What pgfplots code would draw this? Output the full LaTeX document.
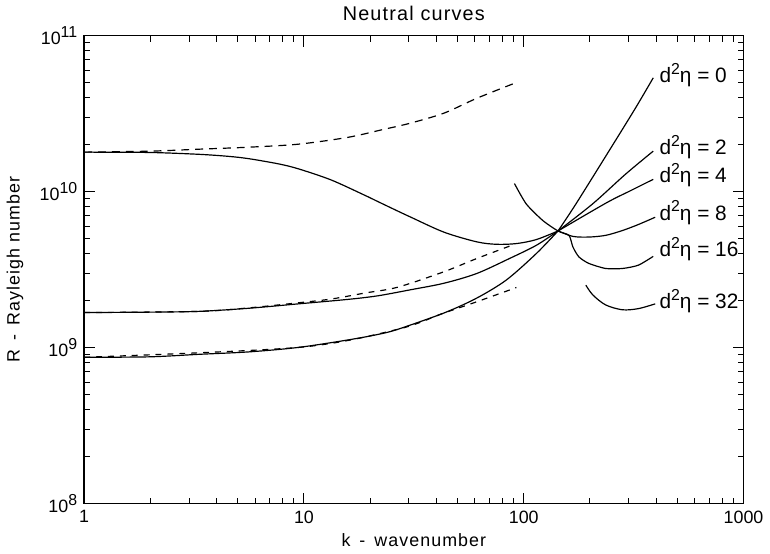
\documentclass[border=0pt]{standalone}
\usepackage{fontspec}
\setmainfont{Liberation Sans}
\newfontfamily\widesans[LetterSpace=6]{Liberation Sans}
\usepackage{pgfplots}
\pgfplotsset{compat=1.18}
\newcommand{\dsq}{d\raisebox{0.75ex}{\fontsize{8}{8}\selectfont 2}η}
\newcommand{\tpow}[1]{10\raisebox{0.7ex}{\fontsize{8}{8}\selectfont #1}}
\tikzset{lbl/.style={anchor=west, inner sep=0pt, font=\fontsize{10.5}{12}\selectfont}}
\begin{document}
\begin{tikzpicture}
\begin{axis}[
  xmode=log, ymode=log,
  scale only axis, width=332.5pt, height=236pt,
  xmin=1, xmax=1000, ymin=1e8, ymax=1e11,
  xtick={1,10,100,1000}, xticklabels={1,10,100,1000},
  ytick={1e8,1e9,1e10,1e11},
  yticklabels={\tpow{8},\tpow{9},\tpow{10},\tpow{11}},
  minor xtick={2,3,4,5,6,7,8,9,20,30,40,50,60,70,80,90,200,300,400,500,600,700,800,900},
  minor ytick={2e8,3e8,4e8,5e8,6e8,7e8,8e8,9e8,2e9,3e9,4e9,5e9,6e9,7e9,8e9,9e9,2e10,3e10,4e10,5e10,6e10,7e10,8e10,9e10},
  major tick length=5.5pt, minor tick length=3pt,
  tick style={black, line width=0.5pt},
  axis line style={line width=0.8pt},
  tick label style={font=\fontsize{9}{10}\selectfont},
  title={Neutral curves},
  xlabel={k \,-\, wavenumber},
  ylabel={R \,-\, Rayleigh number},
  every axis title/.style={at={(axis description cs:0.5,1)}, anchor=center, yshift=11pt, font=\widesans\fontsize{10}{11}\selectfont},
  every axis x label/.style={at={(axis description cs:0.5,0)}, anchor=center, yshift=-18.5pt, font=\widesans\fontsize{9}{10}\selectfont},
  every axis y label/.style={at={(axis description cs:-0.105,0.5)}, rotate=90, anchor=center, font=\widesans\fontsize{9}{10}\selectfont},
  every axis plot/.append style={black, line width=0.6pt},
]
\coordinate (bl) at (rel axis cs:0,0);
\coordinate (tr) at (rel axis cs:1,1);
% upper curve from the left
\addplot[smooth, tension=0.5] coordinates {
 (1,1.793e10) (1.985,1.784e10) (3.337,1.736e10) (4.555,1.684e10) (5.609,1.628e10) (7.657,1.508e10)
 (9.426,1.402e10) (13.28,1.190e10) (18.90,9.49e9) (21.63,8.66e9) (26.63,7.53e9) (30.48,6.89e9)
 (43.39,5.50e9) (61.12,4.77e9) (75.24,4.60e9) (92.60,4.65e9) (114.0,4.93e9) (143.2,5.60e9)};
\addplot[smooth, tension=0.5, dash pattern=on 4pt off 3pt] coordinates {
 (1,1.793e10) (1.985,1.819e10) (3.337,1.873e10) (5.609,1.929e10) (9.426,2.016e10)
 (15.84,2.23e10) (22.79,2.50e10) (30.48,2.75e10) (43.39,3.19e10) (61.12,3.97e10) (92.60,5.01e10)};
% middle curve
\addplot[smooth, tension=0.5] coordinates {
 (1,1.68e9) (1.985,1.69e9) (3.337,1.71e9) (5.609,1.79e9) (9.426,1.91e9) (15.84,2.04e9)
 (21.63,2.15e9) (30.48,2.35e9) (43.39,2.59e9) (61.12,2.99e9) (86.10,3.73e9) (114.0,4.53e9) (143.2,5.60e9)};
\addplot[smooth, tension=0.5, dash pattern=on 3pt off 3pt] coordinates {
 (1,1.68e9) (3.337,1.71e9) (5.609,1.80e9) (9.426,1.94e9) (13.28,2.05e9) (18.90,2.24e9)
 (26.63,2.44e9) (43.39,3.07e9) (61.12,3.73e9) (90.70,4.60e9)};
% lower curve
\addplot[smooth, tension=0.5] coordinates {
 (1,8.68e8) (1.985,8.74e8) (3.337,9.07e8) (5.609,9.40e8) (9.426,1.004e9) (15.84,1.121e9)
 (21.63,1.215e9) (26.63,1.31e9) (43.39,1.67e9) (61.12,2.08e9) (83.44,2.72e9) (114.0,4.01e9) (143.2,5.60e9)};
\addplot[smooth, tension=0.5, dash pattern=on 3pt off 3pt] coordinates {
 (1,8.68e8) (9.426,1.004e9) (26.63,1.31e9) (43.39,1.67e9) (61.12,1.97e9) (92.60,2.43e9)};
% branches to the right
\addplot[smooth, tension=0.4] coordinates {
 (90.70,1.128e10) (102.7,8.34e9) (122.2,6.53e9) (143.2,5.60e9) (160.6,5.25e9) (167.4,4.42e9)
 (178.2,3.82e9) (197.7,3.47e9) (235.9,3.22e9) (281.4,3.22e9) (332.2,3.38e9) (388.3,3.85e9)};
\addplot[smooth, tension=0.5] coordinates {
 (143.2,5.60e9) (167.4,5.17e9) (197.7,5.12e9) (235.9,5.25e9) (281.4,5.64e9) (332.2,6.16e9) (396.4,6.86e9)};
\addplot[smooth, tension=0.5] coordinates {
 (191.6,2.52e9) (206.1,2.18e9) (235.9,1.88e9) (281.4,1.75e9) (332.2,1.78e9) (396.4,1.91e9)};
\addplot[smooth, tension=0.5] coordinates {
 (143.2,5.60e9) (238.3,8.50e9) (305.7,1.014e10) (388.3,1.20e10)};
\addplot[smooth, tension=0.5] coordinates {
 (143.2,5.60e9) (205.5,8.34e9) (290.3,1.294e10) (388.3,1.82e10)};
\addplot[smooth, tension=0.5] coordinates {
 (143.2,5.60e9) (172.7,8.34e9) (244.0,1.82e10) (322.1,3.43e10) (388.3,5.37e10)};
\node[lbl] at (axis cs:413,5.61e10) {\dsq{} = 0};
\node[lbl] at (axis cs:413,1.93e10) {\dsq{} = 2};
\node[lbl] at (axis cs:413,1.28e10) {\dsq{} = 4};
\node[lbl] at (axis cs:413,7.34e9) {\dsq{} = 8};
\node[lbl] at (axis cs:413,4.27e9) {\dsq{} = 16};
\node[lbl] at (axis cs:413,2.00e9) {\dsq{} = 32};
\end{axis}
\path ([shift={(-42pt,-24pt)}]bl) rectangle ([shift={(10.5pt,17pt)}]tr);
\end{tikzpicture}
\end{document}
